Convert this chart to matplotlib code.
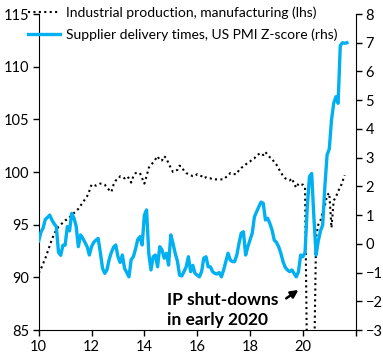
import matplotlib
matplotlib.use('Agg')
import matplotlib.pyplot as plt
import numpy as np

plt.rcParams['font.family'] = ['Lato', 'DejaVu Sans']

# monthly, Jan 2010 onwards (x axis in years since 2000)
ip_manufacturing = [
	90.4, 90.8, 91.3, 91.8, 92.4, 93.0, 93.6, 94.1, 94.5, 94.8, 95.0, 95.2,
	95.4, 95.5, 95.7, 95.9, 96.1, 96.3, 96.5, 96.8, 97.1, 97.4, 97.7, 98.2,
	98.8, 98.8, 98.7, 98.8, 98.9, 98.9, 98.8, 98.5, 98.3, 98.1, 98.8, 99.2,
	99.3, 99.6, 99.5, 99.4, 99.6, 99.4, 99.0, 99.6, 99.9, 99.9, 99.9, 99.4,
	98.9, 99.6, 100.4, 100.7, 100.9, 101.2, 101.5, 101.1, 101.1, 101.5, 101.3, 100.8,
	100.4, 100.0, 100.1, 100.2, 100.6, 100.5, 100.1, 99.9, 99.8, 99.7, 99.6, 99.6,
	99.8, 99.7, 99.6, 99.4, 99.5, 99.4, 99.4, 99.3, 99.3, 99.3, 99.3, 99.3,
	99.3, 99.5, 99.6, 99.9, 99.8, 99.8, 99.8, 100.2, 100.4, 100.5, 100.7, 100.9,
	101.0, 101.2, 101.3, 101.6, 101.7, 101.8, 101.6, 101.9, 101.6, 101.4, 101.3, 100.9,
	100.7, 100.3, 100.0, 99.6, 99.4, 99.3, 99.2, 99.4, 98.9, 98.5, 98.9, 98.8,
	98.8, 98.5, 80.0, 70.0, 72.0, 80.0, 93.8, 95.0, 95.4, 96.2, 96.8, 97.8,
	98.0, 94.7, 97.3, 97.6, 98.2, 98.5, 99.1, 99.7,
]

supplier_delivery_z = [
	0.1, 0.4, 0.55, 0.85, 0.92, 1.0, 0.83, 0.7, 0.6, -0.3, -0.4, -0.05,
	-0.05, 0.6, 0.45, 1.06, 0.9, 0.62, -0.1, 0.31, 0.2, 0.05, -0.1, -0.39,
	-0.1, 0.05, 0.13, 0.19, -0.3, -0.85, -1.03, -0.91, -0.55, -0.3, -0.12, -0.04,
	-0.45, -0.65, -0.39, -0.85, -1.0, -1.15, -0.55, -0.45, -0.18, 0.15, 0.25, -0.04,
	1.0, 1.18, -0.33, -0.91, -0.45, -0.39, -0.8, -0.1, -0.21, -0.5, -0.33, -0.74,
	0.31, 0.02, -0.33, -0.6, -1.09, -1.12, -0.97, -0.8, -0.45, -0.97, -0.75, -1.03,
	-1.09, -1.15, -0.97, -0.5, -0.45, -0.8, -0.8, -0.97, -1.03, -1.05, -1.0, -1.15,
	-0.91, -0.62, -0.33, -0.56, -0.62, -0.62, -0.39, 0.02, 0.37, 0.42, -0.39, -0.1,
	0.13, 0.37, 0.94, 1.12, 1.29, 1.45, 1.41, 0.83, 0.89, 0.71, 0.48, 0.13,
	0.05, -0.1, -0.33, -0.62, -0.82, -0.91, -0.97, -0.91, -1.03, -1.15, -0.97, -0.39,
	-0.45, -0.3, 1.29, 2.34, 2.45, 0.94, -0.39, 0.1, 0.45, 0.65, 2.0, 3.1,
	3.3, 4.3, 4.89, 5.12, 4.89, 6.9, 7.0, 6.98, 7.0,
]

x_ticks = [10, 12, 14, 16, 18, 20, 22]
x_ticklabels = ['10', '12', '14', '16', '18', '20', '']
lhs_ticks = [85, 90, 95, 100, 105, 110, 115]
rhs_ticks = [-3, -2, -1, 0, 1, 2, 3, 4, 5, 6, 7, 8]

label_ip = 'Industrial production, manufacturing (lhs)'
label_sdt = 'Supplier delivery times, US PMI Z-score (rhs)'

x_ip = 10 + np.arange(len(ip_manufacturing)) / 12
x_sdt = 10 + np.arange(len(supplier_delivery_z)) / 12

fig = plt.figure(figsize=(3.83, 3.6), dpi=100)
ax = fig.add_axes([38.7 / 383, 30 / 360, 317 / 383, 316 / 360])
ax2 = ax.twinx()

l1, = ax.plot(x_ip, ip_manufacturing, color='black', lw=1.5,
	linestyle=(0, (1, 1.6)), dash_capstyle='butt', label=label_ip)
l2, = ax2.plot(x_sdt, supplier_delivery_z, color='#00B0F0', lw=2.4,
	solid_joinstyle='round', label=label_sdt)

ax.set_xlim(10, 22)
ax.set_ylim(85, 115)
ax2.set_ylim(-3, 8)
ax.set_xticks(x_ticks)
ax.set_xticklabels(x_ticklabels)
ax.set_yticks(lhs_ticks)
ax2.set_yticks(rhs_ticks)

for a in (ax, ax2):
	a.spines['top'].set_visible(False)
	a.patch.set_visible(False)
ax.spines['right'].set_visible(False)
ax2.spines['left'].set_visible(False)
ax2.spines['bottom'].set_visible(False)
ax.tick_params(axis='both', direction='out', length=4, width=1, labelsize=10.5, pad=3, colors='black')
ax2.tick_params(axis='y', direction='out', length=4, width=1, labelsize=10.5, pad=3, colors='black')

ax.text(14.85, 86.9, 'IP shut-downs\nin early 2020', fontsize=12.5, fontweight='bold',
	va='center', ha='left', linespacing=1.3)
ax.annotate('', xy=(19.92, 88.95), xytext=(19.28, 87.85),
	arrowprops=dict(arrowstyle='-|>', color='black', lw=1.8, mutation_scale=11))

fig.legend([l1, l2], [label_ip, label_sdt], loc='upper left',
	bbox_to_anchor=(28 / 383, 1 - 6 / 360), frameon=False, fontsize=10,
	borderpad=0, borderaxespad=0, handlelength=2.3, handletextpad=0.45,
	labelspacing=0.7)

fig.savefig('out.png', dpi=100)
